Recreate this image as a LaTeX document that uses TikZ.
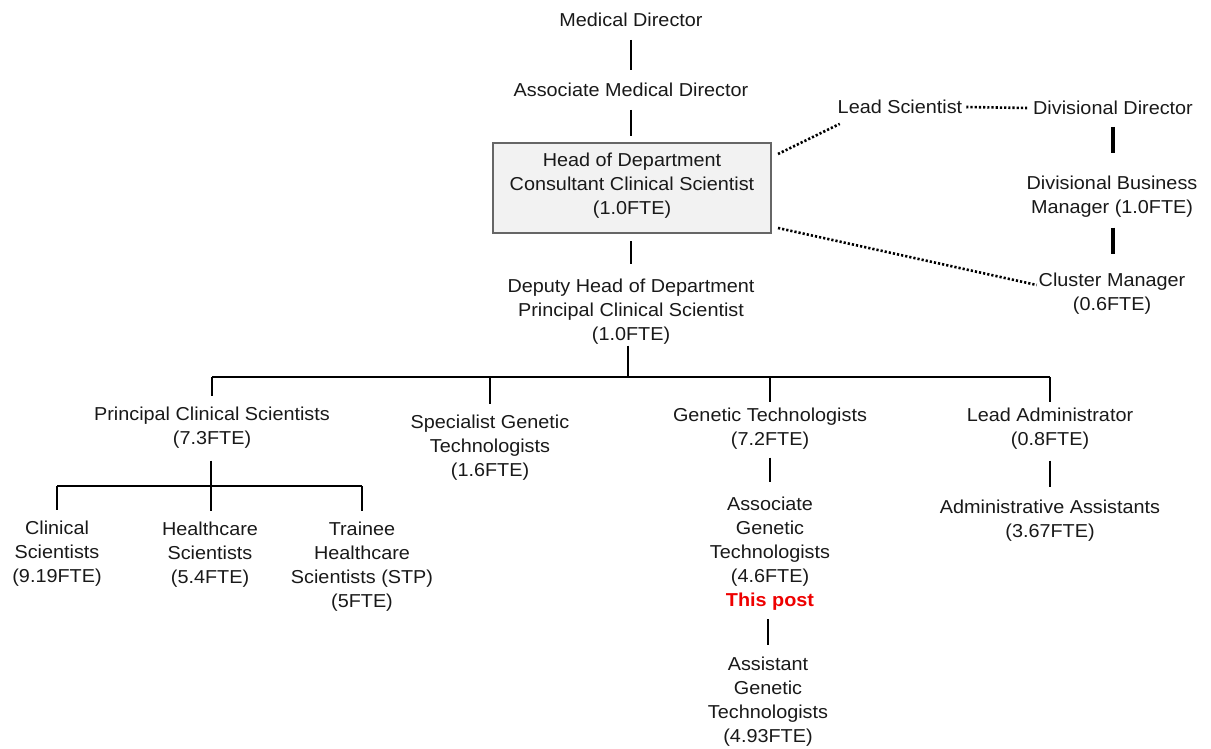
\documentclass[tikz,border=0pt]{standalone}
\usepackage{fontspec}
\setmainfont{Liberation Sans}[FakeStretch=1.06]
\usetikzlibrary{calc}
\definecolor{postred}{HTML}{EE0000}
\definecolor{boxfill}{HTML}{F2F2F2}
\begin{document}
\begin{tikzpicture}[x=1pt,y=-1pt,
  lbl/.style={inner sep=0pt,outer sep=0pt,align=center,font=\fontsize{18.7}{24}\selectfont,text=black!90},
  conn/.style={line width=1.5pt},
  thickconn/.style={line width=3.2pt},
  dotconn/.style={line width=2.6pt,dash pattern=on 2.2pt off 2pt},
  hodbox/.style={lbl,draw=black!60,line width=1.1pt,fill=boxfill,minimum width=278pt,minimum height=90pt}]
\useasboundingbox (0,0) rectangle (1211,749);
% nodes
\node[lbl] (md) at (631,20) {Medical Director};
\node[lbl] (amd) at (631,90) {Associate Medical Director};
\node[hodbox] (hod) at (632,188) {};
\node[lbl] (hodt) at (632,185.5) {Head of Department\\Consultant Clinical Scientist\\(1.0FTE)};
\node[lbl] (dep) at (631,312) {Deputy Head of Department\\Principal Clinical Scientist\\(1.0FTE)};
\node[lbl] (ls) at (900,107) {Lead Scientist};
\node[lbl] (dd) at (1113,108) {Divisional Director};
\node[lbl] (dbm) at (1112,197) {Divisional Business\\Manager (1.0FTE)};
\node[lbl] (cm) at (1112,294) {Cluster Manager\\(0.6FTE)};
\node[lbl] (pcs) at (212,428) {Principal Clinical Scientists\\(7.3FTE)};
\node[lbl] (sgt) at (490,448) {Specialist Genetic\\Technologists\\(1.6FTE)};
\node[lbl] (gt) at (770,429) {Genetic Technologists\\(7.2FTE)};
\node[lbl] (la) at (1050,429) {Lead Administrator\\(0.8FTE)};
\node[lbl] (cs) at (57,554) {Clinical\\Scientists\\(9.19FTE)};
\node[lbl] (hs) at (210,555) {Healthcare\\Scientists\\(5.4FTE)};
\node[lbl] (ths) at (362,567) {Trainee\\Healthcare\\Scientists (STP)\\(5FTE)};
\node[lbl] (agt) at (770,553.5) {Associate\\Genetic\\Technologists\\(4.6FTE)\\{\color{postred}\bfseries This post}};
\node[lbl] (asg) at (768,702) {Assistant\\Genetic\\Technologists\\(4.93FTE)};
\node[lbl] (aa) at (1050,521) {Administrative Assistants\\(3.67FTE)};
% coordinates for bars
\coordinate (bar) at (628,377);
\coordinate (bar2) at (211,486);
% vertical chain top
\draw[conn,shorten <=13pt,shorten >=13pt] (md.south) -- (md.south |- amd.north);
\draw[conn,shorten <=13pt,shorten >=7pt] (amd.south) -- (amd.south |- hod.north);
\draw[conn,shorten <=8pt,shorten >=15pt] (dep.north |- hod.south) -- (dep.north);
% main bar
\draw[conn,shorten <=1pt] (bar |- dep.south) -- (bar);
\draw[conn] (pcs.north |- bar) -- (la.north |- bar);
\draw[conn,shorten >=11pt] (pcs.north |- bar) -- (pcs.north);
\draw[conn,shorten >=11pt] (sgt.north |- bar) -- (sgt.north);
\draw[conn,shorten >=6pt] (gt.north |- bar) -- (gt.north);
\draw[conn,shorten >=6pt] (la.north |- bar) -- (la.north);
% principal sub-tree
\draw[conn,shorten <=12pt,shorten >=11pt] (bar2 |- pcs.south) -- (bar2 |- hs.north);
\draw[conn] (cs.north |- bar2) -- (ths.north |- bar2);
\draw[conn,shorten >=11pt] (cs.north |- bar2) -- (cs.north);
\draw[conn,shorten >=11pt] (ths.north |- bar2) -- (ths.north);
% genetic technologists chain
\draw[conn,shorten <=8pt,shorten >=15pt] (gt.south) -- (gt.south |- agt.north);
\draw[conn,shorten <=9pt,shorten >=12pt] (asg.north |- agt.south) -- (asg.north);
% admin chain
\draw[conn,shorten <=11pt,shorten >=13pt] (la.south) -- (la.south |- aa.north);
% divisional chain
\draw[thickconn,shorten <=12pt,shorten >=23pt] (dd.south) -- (dd.south |- dbm.north);
\draw[thickconn,shorten <=10pt,shorten >=19pt] (dd.south |- dbm.south) -- (dd.south |- cm.north);
% dotted links
\draw[dotconn] ([xshift=7,yshift=-11]hod.north east) -- ([xshift=2,yshift=-10]ls.south west);
\draw[dotconn] ([xshift=4]ls.east) -- ([xshift=-6]dd.west);
\draw[dotconn] ([xshift=7,yshift=5]hod.south east) -- ([xshift=-2,yshift=9]cm.west);
\end{tikzpicture}
\end{document}
